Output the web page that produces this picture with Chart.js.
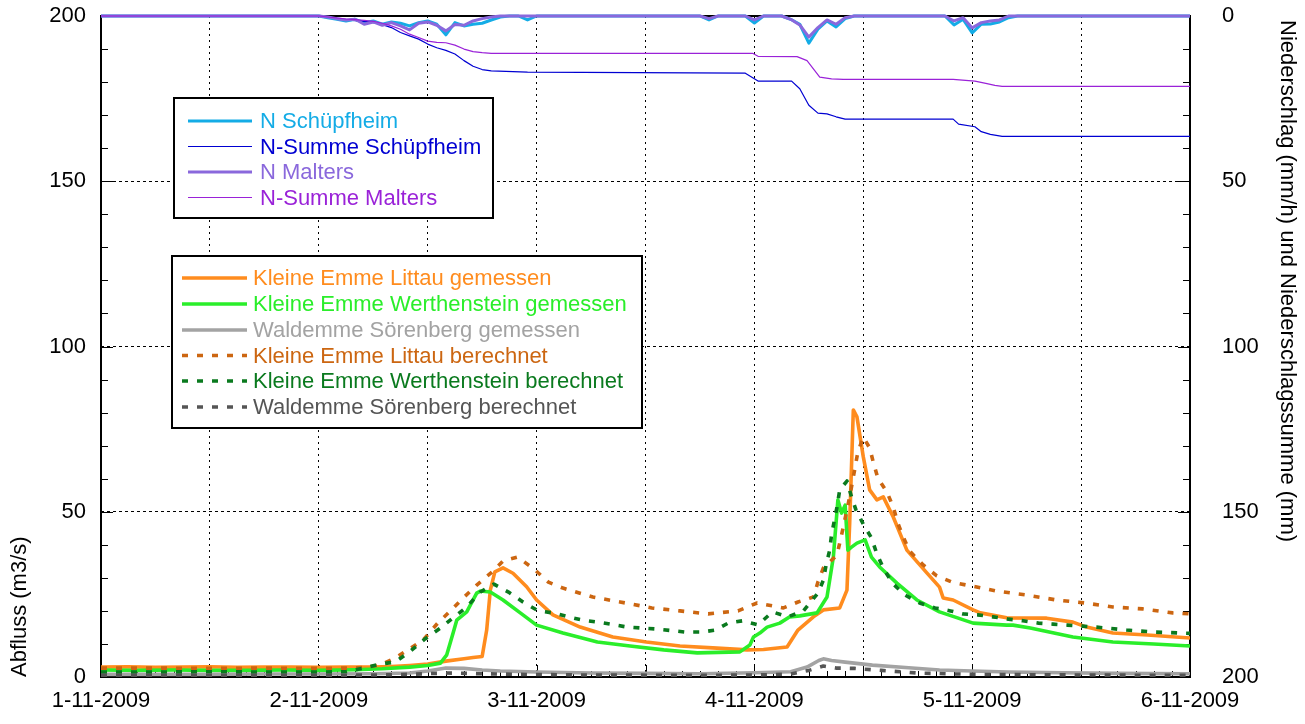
<!DOCTYPE html>
<html><head><meta charset="utf-8">
<script src="https://cdn.jsdelivr.net/npm/chart.js@4.4.1/dist/chart.umd.min.js"></script>
<style>html,body{margin:0;padding:0;background:#fff;overflow:hidden}canvas{display:block}</style>
</head><body>
<canvas id="c" width="1305" height="724"></canvas>
<script>
// ---------- DATA (time in hours since 1-11-2009 00:00) ----------
const dayLabels = ['1-11-2009','2-11-2009','3-11-2009','4-11-2009','5-11-2009','6-11-2009'];
const leftTitle = 'Abfluss (m3/s)';
const rightTitle = 'Niederschlag (mm/h) und Niederschlagssumme (mm)';

// Precipitation (right axis, reversed)
const nSchT = [0,24,25,26,27,28,29,30,31,32,33,34,35,36,37,38,39,40,41,42,43,44,45,46,47,48,49,66,67,68,71,72,73,75,76,77,78,79,80,81,82,83,93,94,95,96,97,98,99,100,101,120];
const nSchV = [0,0,0.5,1.0,1.5,1.0,2.0,1.5,2.5,1.8,2.2,3.0,2.0,1.5,2.5,5.7,2.0,3.0,2.5,2.2,1.2,0.3,0,0,1.2,0,0,0,1.2,0,0,2.1,0,0,1.0,2.5,8.2,4.0,1.5,3.3,0.8,0,0,2.7,1.0,5.1,2.5,2.4,1.8,0.5,0,0];
const sumSchT = [0,24,25,26,27,28,29,30,31,32,33,34,35,36,37,38,39,40,41,42,43,47,71,72.4,76.1,77,78,79,80,81,82,93.9,94.5,96.3,97,98,99.3,120];
const sumSchV = [0,0,0.3,0.8,1.2,1.4,1.6,2.0,2.6,3.5,5.0,6.0,7.0,8.5,9.6,10.4,11.5,13.5,15.2,16.2,16.6,17.0,17.3,19.7,19.7,22.0,27.0,29.4,29.6,30.5,31.2,31.2,32.7,33.5,35.0,35.8,36.4,36.4];
const nMalT = [0,24,25,26,27,28,29,30,31,32,33,34,35,36,37,38,39,40,41,42,43,44,66,67,68,71,72,73,75,76,77,78,79,80,81,82,83,93,94,95,96,97,98,99,100,120];
const nMalV = [0,0,0.3,0.8,1.2,1.0,2.5,1.8,2.8,2.0,3.0,4.2,2.2,1.8,2.8,4.5,2.6,2.8,1.5,0.8,0.3,0,0,0.8,0,0,1.2,0,0,1.0,2.7,6.4,3.5,1.2,2.5,0.5,0,0,1.5,0.5,3.6,2.0,1.5,1.2,0,0];
const sumMalT = [0,24,25,26,27,28,29,30,31,32,33,34,35,36,37,38,39,40,41,42,43,71.8,72.4,76.7,77.8,79.2,80.5,81.8,93.9,96.3,97.5,98.5,99.3,120];
const sumMalV = [0,0,0.3,0.6,0.9,1.1,1.3,1.6,2.2,3.0,4.0,5.5,6.5,7.6,8.0,8.1,8.8,10.0,10.8,11.1,11.3,11.3,12.2,12.3,13.5,18.5,19.0,19.2,19.2,19.7,20.4,21.0,21.3,21.3];

// Discharge (left axis)
const litMT = [0,3,6,9,12,15,18,21,24,27,30,32,34,36,38,40,41,42,42.5,42.9,43.4,44.3,45.4,46.9,48,49.8,52.8,56.4,60.1,63.8,67.4,71.2,73,75.6,76.8,78.5,79.6,81.4,82.2,82.5,82.9,83.3,84,84.7,85.5,86.2,87.3,88.8,91,92.4,92.8,93.9,96.1,96.9,99.8,104.2,107.1,108.6,111.5,115.3,120];
const litMV = [3.0,3.1,2.9,3.0,3.1,2.9,3.0,3.0,2.9,3.0,3.0,3.2,3.5,3.9,4.8,5.5,5.9,6.2,14.2,26.3,31.8,33.0,31.4,27.3,23.3,18.8,15.1,12.1,10.6,9.4,8.8,8.2,8.3,9.1,14.2,18.2,20.3,20.9,26.3,46.6,80.8,78.7,66.6,56.6,53.6,54.5,48.4,38.4,31.5,27.2,23.9,23.3,20.3,19.4,17.9,17.8,16.6,15.1,13.3,12.7,11.8];
const werMT = [0,4,8,12,16,20,24,28,31,34,36,37.4,38.1,38.8,39.2,40.3,41.4,41.8,42.9,44.3,46.2,48,50.9,54.7,58.3,62,65.7,70.4,71.5,71.9,72.6,73.4,74.8,75.9,77,78.9,80,80.7,81.2,81.6,82,82.3,82.7,83.3,84.2,84.9,85.8,87.7,89.9,92.4,96.1,99.8,100.5,102.4,107.1,111.5,116,120];
const werMV = [2.1,2.0,2.1,2.0,2.0,2.1,2.0,2.2,2.5,3.0,3.5,4.2,6.7,13.3,17.2,19.7,25.4,26.0,25.7,23.3,19.4,15.7,13.3,10.6,9.4,8.2,7.3,7.6,9.7,12.1,13.3,15.1,16.3,18.2,18.5,19.4,24.2,36.3,53.6,49.6,52.0,38.4,39.3,40.5,41.5,36.3,33.3,28.4,23.3,19.7,16.3,15.7,15.7,14.8,12.1,10.6,10.0,9.4];
const sorMT = [0,6,12,18,24,30,34,36,38,40,42,44,48,54,60,66,72,76,77.8,79.1,79.6,80.5,82,85,89,92.4,96,100,106,112,120];
const sorMV = [0.8,0.8,0.8,0.9,0.9,1.0,1.2,1.8,2.7,2.6,2.1,1.8,1.5,1.2,1.1,1.0,1.3,1.6,3.0,5.0,5.5,5.0,4.5,3.6,2.8,2.1,1.8,1.5,1.3,1.1,1.0];
const litBT = [0,6,12,18,24,27,29,30.7,32.4,35.5,37.1,38.5,39.9,41.4,43.1,44.3,45.9,47.7,49.3,50.9,54.2,57.2,60.7,63.8,66.9,70.2,72.3,75.2,76.8,78.5,79,79.6,81.1,81.8,82.5,83.1,83.4,84,84.7,85.1,85.6,86.6,87.3,87.8,88.4,89.1,90.6,92.1,93.8,95.4,97.1,98.7,102,105.3,108.4,111.5,114.8,118.1,120];
const litBV = [2.7,2.7,2.6,2.7,2.6,2.7,2.9,3.6,5.7,11.2,16.3,20.0,23.9,27.8,31.8,35.1,36.3,32.7,28.7,26.9,24.2,22.7,20.9,20.0,19.1,20.0,22.4,20.9,22.7,24.2,28.7,33.0,36.9,45.4,54.5,63.5,68.1,72.6,69.3,65.0,60.2,56.0,51.4,46.6,42.4,38.1,33.9,30.6,28.7,27.8,26.9,26.0,24.8,23.3,22.4,21.2,20.6,19.4,19.1];
const werBT = [0,6,12,18,24,27,29,30.7,32.4,34,35.7,37.4,38.8,40.3,41.8,43.3,44.9,46.5,48.2,49.8,51.5,53.1,54.8,58,61.3,64.4,66.2,67.7,69.1,70.7,72.4,74,75.7,77.4,79,79.6,79.9,80.3,80.5,81.1,81.4,82.2,82.7,83.2,84.1,84.9,85.5,86.2,87.2,88.6,90.2,91.9,93.6,95,96.6,98.3,100,101.6,103.3,104.9,106.5,108.1,109.7,113,116.1,120];
const werBV = [1.5,1.5,1.6,1.5,1.5,1.6,2.7,3.9,4.5,7.6,11.5,14.8,17.9,21.2,25.7,28.1,25.7,22.7,20.0,19.4,18.2,17.2,16.6,15.1,14.5,13.6,13.6,14.2,16.3,17.0,15.8,19.7,18.2,20.0,25.4,29.3,33.9,38.4,43.0,51.4,56.6,59.3,54.5,50.5,45.7,42.1,37.2,33.0,28.4,24.8,22.4,20.9,20.0,19.1,18.8,18.2,17.5,17.0,16.3,16.0,15.7,15.4,15.1,14.2,13.6,13.2];
const sorBT = [0,12,24,30,34,38,42,46,54,66,72,76,78,79.6,81,83,86,90,96,108,120];
const sorBV = [0.5,0.5,0.5,0.6,0.8,1.2,1.0,0.8,0.6,0.5,0.6,0.9,2.0,3.3,2.7,2.6,2.0,1.2,0.8,0.6,0.5];

// ---------- CHART ----------
const FONT = "'Liberation Sans', Arial, Helvetica, sans-serif";
const FS = 22;
const pts = (t, v) => t.map((x, i) => ({x: x, y: v[i]}));
const DASH = [6, 9];

const series = [
  {label:'N Schüpfheim', t:nSchT, v:nSchV, color:'#14ACE6', w:3, axis:'y2'},
  {label:'N-Summe Schüpfheim', t:sumSchT, v:sumSchV, color:'#0000D2', w:1.2, axis:'y2'},
  {label:'N Malters', t:nMalT, v:nMalV, color:'#8A68DC', w:3, axis:'y2'},
  {label:'N-Summe Malters', t:sumMalT, v:sumMalV, color:'#9A22D8', w:1.2, axis:'y2'},
  {label:'Kleine Emme Littau gemessen', t:litMT, v:litMV, color:'#FF8C1E', w:3.6, axis:'y'},
  {label:'Kleine Emme Werthenstein gemessen', t:werMT, v:werMV, color:'#2AEE2A', w:3.6, axis:'y'},
  {label:'Waldemme Sörenberg gemessen', t:sorMT, v:sorMV, color:'#A3A3A3', w:3.6, axis:'y'},
  {label:'Kleine Emme Littau berechnet', t:litBT, v:litBV, color:'#CC6611', w:3.6, axis:'y', dash:DASH},
  {label:'Kleine Emme Werthenstein berechnet', t:werBT, v:werBV, color:'#0A7A1E', w:3.6, axis:'y', dash:DASH},
  {label:'Waldemme Sörenberg berechnet', t:sorBT, v:sorBV, color:'#555555', w:3.6, axis:'y', dash:DASH}
];

const datasets = series.map((s, i) => ({
  label: s.label,
  data: pts(s.t, s.v),
  yAxisID: s.axis,
  borderColor: s.color,
  backgroundColor: s.color,
  borderWidth: s.w,
  borderDash: s.dash || [],
  borderCapStyle: 'butt',
  borderJoinStyle: 'round',
  pointRadius: 0,
  tension: 0,
  fill: false,
  order: series.length - i,
  clip: s.axis === 'y2' ? 3 : 0
}));

const legendLayouts = [
  {box:[174, 98, 319, 120], rows:[121, 146.5, 172, 197.5], lx:[188, 252], tx:260, idx:[0,1,2,3]},
  {box:[172, 256, 470, 172], rows:[278, 304, 330, 355.5, 381, 407], lx:[182, 247], tx:253, idx:[4,5,6,7,8,9]}
];

const noPad = s => { s.paddingTop = 0; s.paddingBottom = 0; };

const deco = {
  id: 'deco',
  beforeDatasetsDraw(chart) {
    const ctx = chart.ctx, a = chart.chartArea;
    const xs = chart.scales.x, yl = chart.scales.y, yr = chart.scales.y2;
    ctx.save();
    ctx.strokeStyle = '#000';
    ctx.lineWidth = 1;
    ctx.beginPath();
    for (let v = 0; v <= 200; v += 10) {
      const len = v % 50 === 0 ? 12 : 7;
      const p1 = Math.round(yl.getPixelForValue(v)) + 0.5;
      ctx.moveTo(a.left, p1); ctx.lineTo(a.left + len, p1);
      const p2 = Math.round(yr.getPixelForValue(v)) + 0.5;
      ctx.moveTo(a.right - len, p2); ctx.lineTo(a.right, p2);
    }
    for (let h = 0; h <= 120; h += 2) {
      const len = h % 12 === 0 ? 12 : 6;
      const px = Math.round(xs.getPixelForValue(h)) + 0.5;
      ctx.moveTo(px, a.bottom); ctx.lineTo(px, a.bottom - len);
    }
    ctx.stroke();
    ctx.lineWidth = 2;
    ctx.strokeRect(a.left, a.top, a.right - a.left, a.bottom - a.top);
    ctx.restore();
  },
  afterDraw(chart) {
    const ctx = chart.ctx, a = chart.chartArea;
    ctx.save();
    ctx.font = FS + 'px ' + FONT;
    ctx.fillStyle = '#000';
    ctx.textBaseline = 'middle';
    ctx.save();
    ctx.translate(20, a.bottom);
    ctx.rotate(-Math.PI / 2);
    ctx.textAlign = 'left';
    ctx.fillText(leftTitle, 0, 0);
    ctx.restore();
    ctx.save();
    ctx.translate(1287, 20);
    ctx.rotate(Math.PI / 2);
    ctx.textAlign = 'left';
    ctx.fillText(rightTitle, 0, 0);
    ctx.restore();
    legendLayouts.forEach(L => {
      const [bx, by, bw, bh] = L.box;
      ctx.fillStyle = '#fff';
      ctx.fillRect(bx, by, bw, bh);
      ctx.strokeStyle = '#000';
      ctx.lineWidth = 2;
      ctx.strokeRect(bx, by, bw, bh);
      L.idx.forEach((di, r) => {
        const ds = chart.data.datasets[di];
        const y = L.rows[r];
        ctx.save();
        ctx.strokeStyle = ds.borderColor;
        ctx.lineWidth = ds.borderWidth;
        ctx.setLineDash(ds.borderDash || []);
        ctx.beginPath();
        ctx.moveTo(L.lx[0], y); ctx.lineTo(L.lx[1], y);
        ctx.stroke();
        ctx.restore();
        ctx.fillStyle = ds.borderColor;
        ctx.textAlign = 'left';
        ctx.textBaseline = 'middle';
        ctx.fillText(ds.label, L.tx, y + 1);
      });
    });
    ctx.restore();
  }
};

new Chart(document.getElementById('c'), {
  type: 'line',
  data: {datasets: datasets},
  plugins: [deco],
  options: {
    responsive: false,
    animation: false,
    devicePixelRatio: 1,
    layout: {padding: {top: 16, left: 0, right: 0, bottom: 0}},
    plugins: {legend: {display: false}, tooltip: {enabled: false}},
    scales: {
      x: {
        type: 'linear', position: 'bottom', min: 0, max: 120,
        afterFit: s => { s.height = 47; s.paddingLeft = 0; s.paddingRight = 0; },
        afterBuildTicks: s => { s.ticks = []; for (let h = 0; h <= 120; h += 12) s.ticks.push({value: h}); },
        ticks: {
          autoSkip: false, maxRotation: 0, padding: 11, color: '#000',
          font: {family: FONT, size: FS},
          callback: v => (v % 24 === 0 ? dayLabels[v / 24] : '')
        },
        grid: {color: '#000', lineWidth: 1, drawTicks: false},
        border: {display: false, dash: [2, 4]}
      },
      y: {
        type: 'linear', position: 'left', min: 0, max: 200,
        afterFit: s => { s.width = 101; noPad(s); },
        ticks: {stepSize: 50, padding: 15, color: '#000', font: {family: FONT, size: FS}},
        grid: {color: '#000', lineWidth: 1, drawTicks: false},
        border: {display: false, dash: [3, 3]}
      },
      y2: {
        type: 'linear', position: 'right', min: 0, max: 200, reverse: true,
        afterFit: s => { s.width = 115; noPad(s); },
        ticks: {stepSize: 50, padding: 32, color: '#000', font: {family: FONT, size: FS}},
        grid: {display: false, drawTicks: false},
        border: {display: false}
      }
    }
  }
});
</script>
</body></html>
